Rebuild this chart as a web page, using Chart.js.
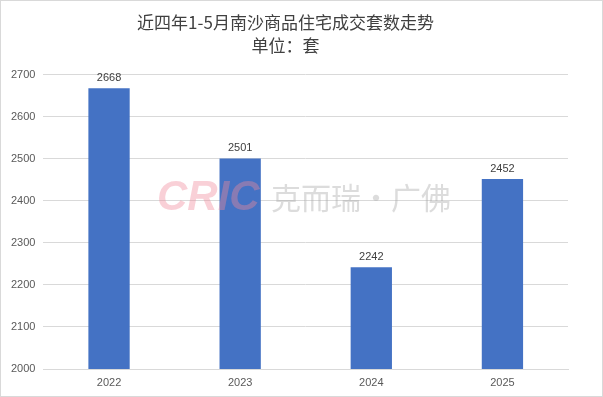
<!DOCTYPE html>
<html>
<head>
<meta charset="utf-8">
<script src="https://cdn.jsdelivr.net/npm/chart.js@4/dist/chart.umd.min.js"></script>
<style>
  html, body { margin: 0; padding: 0; background: #fff; }
  #wrap { position: relative; width: 603px; height: 397px; box-sizing: border-box; border: 1px solid #d9d9d9; }
</style>
</head>
<body>
<div id="wrap"><canvas id="myChart"></canvas></div>
<script>
// data
const years = ["2022", "2023", "2024", "2025"];
const deals = [2668, 2501, 2242, 2452];
const titleLines = ["近四年1-5月南沙商品住宅成交套数走势", "单位：套"];

// value labels above bars
const barLabels = {
  id: "barLabels",
  afterDatasetsDraw(chart) {
    const ctx = chart.ctx;
    const meta = chart.getDatasetMeta(0);
    ctx.save();
    ctx.font = "11px 'Liberation Sans', Arial, sans-serif";
    ctx.fillStyle = "#404040";
    ctx.textAlign = "center";
    ctx.textBaseline = "bottom";
    meta.data.forEach((bar, i) => {
      ctx.fillText(deals[i], bar.x, bar.y - 5);
    });
    ctx.restore();
  },
};

// faint watermark
const watermark = {
  id: "watermark",
  afterDraw(chart) {
    const ctx = chart.ctx;
    ctx.save();
    ctx.globalAlpha = 0.4;
    ctx.textBaseline = "middle";
    ctx.font = "italic bold 42px 'Liberation Sans', Arial, sans-serif";
    ctx.fillStyle = "#f08a9c";
    ctx.fillText("CRIC", 156, 197);
    ctx.font = "30px 'Noto Sans CJK SC', sans-serif";
    ctx.fillStyle = "#a8a8a8";
    ctx.fillText("克而瑞·广佛", 270, 197);
    ctx.restore();
  },
};

const ctx = document.getElementById("myChart").getContext("2d");
new Chart(ctx, {
  type: "bar",
  data: {
    labels: years,
    datasets: [
      {
        label: "成交套数",
        data: deals,
        backgroundColor: "#4472c4",
        barPercentage: 0.63,
        categoryPercentage: 0.5,
      },
    ],
  },
  options: {
    responsive: true,
    maintainAspectRatio: false,
    animation: false,
    layout: { padding: { left: 2, right: 34, top: 0, bottom: 0 } },
    plugins: {
      legend: { display: false },
      tooltip: { enabled: false },
      title: {
        display: true,
        text: titleLines,
        color: "#404040",
        font: { family: "'Noto Sans CJK SC', sans-serif", size: 17, weight: "normal", lineHeight: 1.35 },
        padding: { top: 10, bottom: 18 },
      },
    },
    scales: {
      x: {
        grid: { display: false, drawTicks: false },
        border: { color: "#d9d9d9" },
        ticks: { color: "#595959", font: { family: "'Liberation Sans', Arial, sans-serif", size: 11, lineHeight: 1 }, padding: 8 },
      },
      y: {
        min: 2000,
        max: 2700,
        border: { display: false },
        grid: { color: "#d9d9d9", drawTicks: false },
        ticks: {
          stepSize: 100,
          color: "#595959",
          font: { family: "'Liberation Sans', Arial, sans-serif", size: 11 },
          padding: 8,
          callback: (v) => String(v),
        },
      },
    },
  },
  plugins: [barLabels, watermark],
});
</script>
</body>
</html>
